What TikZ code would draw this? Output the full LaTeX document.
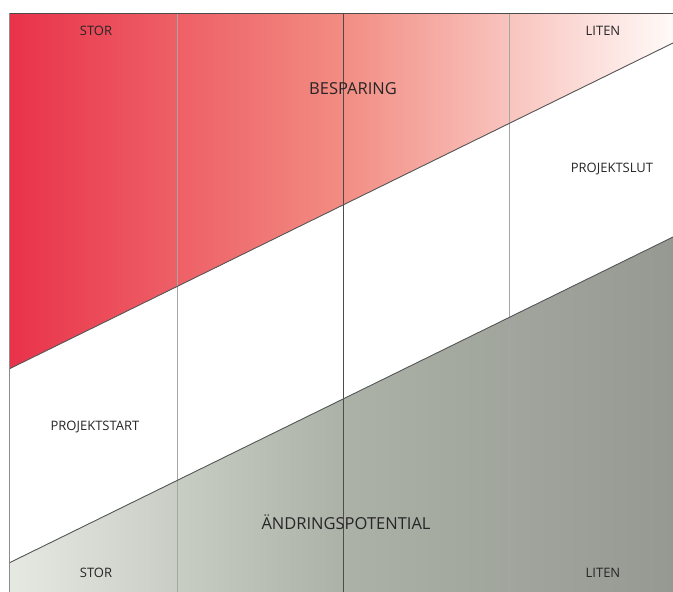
\documentclass[tikz,border=0pt]{standalone}
\usepackage{fontspec}
\setmainfont{Open Sans}
\definecolor{sparred}{RGB}{233,50,74}
\definecolor{sparmid}{RGB}{242,140,130}
\definecolor{sparend}{RGB}{255,250,248}
\definecolor{potlight}{RGB}{230,233,226}
\definecolor{potmid}{RGB}{172,178,168}
\definecolor{potdark}{RGB}{150,153,146}
\begin{document}
\begin{tikzpicture}[x=1pt,y=-1pt,
  lbl/.style={font=\fontsize{13}{15}\selectfont, text=black!85},
  big/.style={font=\fontsize{16.5}{19}\selectfont, text=black!85},
  edge/.style={draw=black!65, line width=0.9pt}]
 \useasboundingbox (0,0) rectangle (673,592);
 \coordinate (tl) at (9,13);
 \coordinate (tr) at (673,13);
 \coordinate (bl) at (9,592);
 \coordinate (br) at (673,592);
 \coordinate (sl) at (9,369);
 \coordinate (sr) at (673,43);
 \coordinate (pl) at (9,563);
 \coordinate (pr) at (673,237);
 % besparing and potential
 \fill[left color=sparred, right color=sparend, middle color=sparmid] (tl) -- (tr) -- (sr) -- (sl) -- cycle;
 \fill[left color=potlight, right color=potdark, middle color=potmid] (pl) -- (pr) -- (br) -- (bl) -- cycle;
 \foreach \x in {177,509}
  \draw[black!35, line width=0.8pt] (\x,13) -- (\x,592);
 \draw[black!70, line width=0.9pt] (343,13) -- (343,592);
 \draw[edge] (sl) -- (sr);
 \draw[edge] (pl) -- (pr);
 \draw[black!70, line width=0.9pt] (tl) -- (tr);
 \draw[black!45, line width=0.8pt] (tl) -- (bl);
 \node[lbl] (stortop) at (96,31) {STOR};
 \node[lbl] (litentop) at (603,31) {LITEN};
 \node[big] (besparing) at (353,89) {BESPARING};
 \node[lbl] (slut) at (612,169) {PROJEKTSLUT};
 \node[lbl] (start) at (95,427) {PROJEKTSTART};
 \node[big] (potential) at (346,522) {ÄNDRINGSPOTENTIAL};
 \node[lbl] (storbot) at (96,573) {STOR};
 \node[lbl] (litenbot) at (603,573) {LITEN};
\end{tikzpicture}
\end{document}
